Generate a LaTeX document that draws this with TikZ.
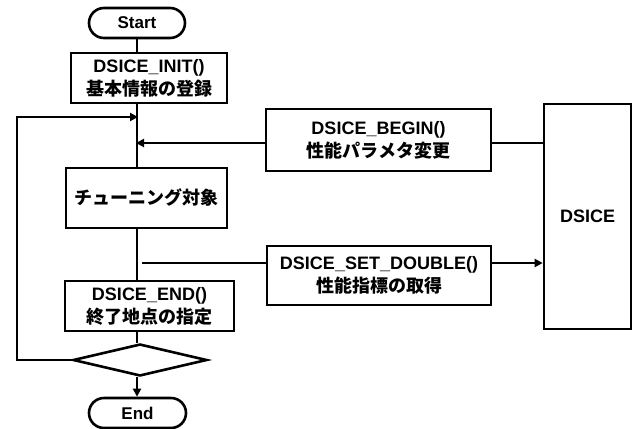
\documentclass[tikz,border=0pt]{standalone}
\usepackage{fontspec}
\setmainfont{Liberation Sans}
\newfontfamily\jp{Noto Sans CJK JP}
\usetikzlibrary{arrows.meta,shapes.geometric}
\begin{document}
\begin{tikzpicture}[x=1pt,y=-1pt,
  box/.style={draw, line width=2.6pt, align=center, inner sep=0pt,
    font=\fontsize{18}{23}\selectfont\bfseries},
  pill/.style={box, rounded corners=15pt, font=\fontsize{17}{20}\selectfont\bfseries},
  ln/.style={line width=2.6pt},
  arr/.style={ln, -{Triangle[length=8pt,width=8pt]}}]
\useasboundingbox (0,0) rectangle (636,428);
\node[pill, minimum width=96pt, minimum height=30pt] (start) at (137,23) {Start};
\node[box, minimum width=156pt, minimum height=50pt] (init) at (149,78) {DSICE\_INIT()\\{\jp 基本情報の登録}};
\node[box, minimum width=161pt, minimum height=60pt] (tune) at (146.5,198) {{\jp チューニング対象}};
\node[box, minimum width=169pt, minimum height=50pt] (endbox) at (149.5,306) {DSICE\_END()\\{\jp 終了地点の指定}};
\node[draw, diamond, line width=2.6pt, minimum width=134pt, minimum height=32pt, inner sep=0pt] (dec) at (140,360) {};
\node[pill, minimum width=97pt, minimum height=30pt] (stop) at (137.5,413) {End};
\node[box, minimum width=225pt, minimum height=62pt] (begin) at (378.5,140) {DSICE\_BEGIN()\\{\jp 性能パラメタ変更}};
\node[box, minimum width=224pt, minimum height=59pt] (setd) at (379,275.5) {DSICE\_SET\_DOUBLE()\\{\jp 性能指標の取得}};
\node[box, minimum width=87pt, minimum height=225pt] (dsice) at (587.5,216.5) {DSICE};
% main flow
\draw[ln] (start.south) -- (start.south |- init.north);
\draw[ln] (137,0 |- init.south) -- (137,0 |- tune.north);
\draw[ln] (137,0 |- tune.south) -- (137,0 |- endbox.north);
\draw[ln] (137,0 |- endbox.south) -- (137,0 |- dec.north);
\draw[arr] (137,0 |- dec.south) -- (stop.north -| 137,0);
% loop
\coordinate (loopA) at (17,360);
\coordinate (loopB) at (17,117);
\coordinate (loopC) at (138,117);
\draw[arr] (dec.west) -- (loopA) -- (loopB) -- (loopC);
% DSICE calls
\coordinate (bin) at (136,143);
\draw[arr] (begin.west |- bin) -- (bin);
\draw[ln] (begin.east |- bin) -- (dsice.west |- bin);
\coordinate (sout) at (142,263);
\draw[ln] (sout) -- (setd.west |- sout);
\draw[arr] (setd.east |- sout) -- (dsice.west |- sout);
\end{tikzpicture}
\end{document}
